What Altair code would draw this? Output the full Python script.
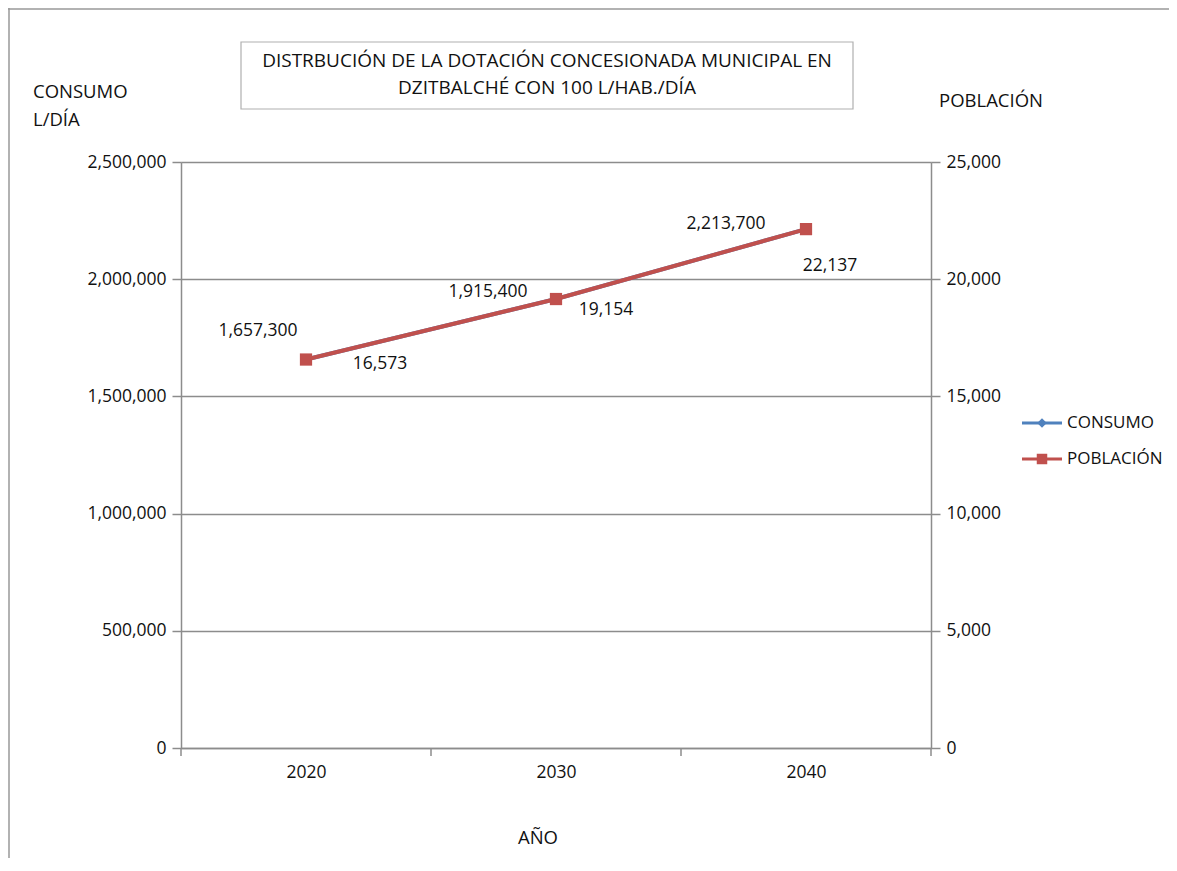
import altair as alt
import pandas as pd

# ---- data ----
years = [2020, 2030, 2040]
consumo = [1657300, 1915400, 2213700]
poblacion = [16573, 19154, 22137]
tick_bounds = [2015, 2025, 2035, 2045]
series = ["CONSUMO", "POBLACIÓN"]
colors = ["#4F81BD", "#C0504D"]
title_lines = ["DISTRBUCIÓN DE LA DOTACIÓN CONCESIONADA MUNICIPAL EN",
               "DZITBALCHÉ CON 100 L/HAB./DÍA"]

df = pd.DataFrame({"year": years, "consumo": consumo, "poblacion": poblacion})
df["consumo_lbl"] = [f"{v:,}" for v in consumo]
df["poblacion_lbl"] = [f"{v:,}" for v in poblacion]
one = pd.DataFrame({"a": [0]})

FONT = "Open Sans"
GRAY = "#8c8c8c"
TXT = "#111111"
W, H = 750, 586
LBL = 17.5

x_axis = alt.Axis(values=years, format="d", ticks=False, grid=False,
                  domainColor=GRAY, domainWidth=1.5,
                  labelFont=FONT, labelFontSize=LBL, labelColor=TXT,
                  labelPadding=15, title=None)
x_scale = alt.Scale(domain=[2015, 2045], nice=False)
xenc = alt.X("year:Q", scale=x_scale, axis=x_axis)

yl_axis = alt.Axis(values=[0, 500000, 1000000, 1500000, 2000000, 2500000],
                   format=",d", grid=True, gridColor=GRAY, gridWidth=1.5,
                   domainColor=GRAY, domainWidth=1.5, tickColor=GRAY,
                   tickWidth=1.5, tickSize=9, labelPadding=6,
                   labelFont=FONT, labelFontSize=LBL, labelColor=TXT,
                   title=None)
yl = alt.Y("consumo:Q", scale=alt.Scale(domain=[0, 2500000], nice=False), axis=yl_axis)

yr_axis = alt.Axis(orient="right", values=[0, 5000, 10000, 15000, 20000, 25000],
                   format=",d", grid=False, domainColor=GRAY, domainWidth=1.5,
                   tickColor=GRAY, tickWidth=1.5, tickSize=9, labelPadding=6,
                   labelFont=FONT, labelFontSize=LBL, labelColor=TXT,
                   title=None)
yr = alt.Y("poblacion:Q", scale=alt.Scale(domain=[0, 25000], nice=False), axis=yr_axis)

base = alt.Chart(df)

# left (CONSUMO) layer
left_layers = [
    base.mark_line(color=colors[0], strokeWidth=4).encode(x=xenc, y=yl),
    base.mark_point(shape="diamond", filled=True, size=120, opacity=1,
                    color=colors[0]).encode(x=xenc, y=yl),
]
c_off = [(-48, -29), (-68, -7), (-80, -5)]
for yv, (dx, dy) in zip(years, c_off):
    left_layers.append(
        base.transform_filter(alt.datum.year == yv).mark_text(
            font=FONT, fontSize=LBL, color=TXT, dx=dx, dy=dy, align="center", baseline="middle"
        ).encode(x=xenc, y=yl, text="consumo_lbl:N"))
left = alt.layer(*left_layers)

# right (POBLACIÓN) layer
right_layers = [
    base.mark_line(color=colors[1], strokeWidth=4).encode(x=xenc, y=yr),
    base.mark_point(shape="square", filled=True, size=150, opacity=1,
                    color=colors[1]).encode(x=xenc, y=yr),
]
p_off = [(74, 4), (50, 11), (24, 37)]
for yv, (dx, dy) in zip(years, p_off):
    right_layers.append(
        base.transform_filter(alt.datum.year == yv).mark_text(
            font=FONT, fontSize=LBL, color=TXT, dx=dx, dy=dy, align="center", baseline="middle"
        ).encode(x=xenc, y=yr, text="poblacion_lbl:N"))
right = alt.layer(*right_layers)

# x ticks at category boundaries
ticks = alt.Chart(pd.DataFrame({"year": tick_bounds})).mark_rule(color=GRAY, strokeWidth=1.5).encode(
    x=xenc, y=alt.value(H), y2=alt.value(H + 8))

deco = []
# outer frame (top and left)
deco.append(alt.Chart(one).mark_rule(color="#999", strokeWidth=1.5).encode(
    x=alt.value(-173), x2=alt.value(990), y=alt.value(-153)))
deco.append(alt.Chart(one).mark_rule(color="#999", strokeWidth=1.5).encode(
    x=alt.value(-172), y=alt.value(-154), y2=alt.value(700)))
# title box
deco.append(alt.Chart(one).mark_rect(fill="white", stroke="#b0b0b0", strokeWidth=1.2).encode(
    x=alt.value(60), x2=alt.value(672), y=alt.value(-120), y2=alt.value(-53)))
deco.append(alt.Chart(one).mark_text(font=FONT, fontSize=19, color=TXT, align="center",
                                     baseline="middle", lineHeight=27).encode(
    x=alt.value(366), y=alt.value(-101), text=alt.value(title_lines)))
# axis titles
deco.append(alt.Chart(one).mark_text(font=FONT, fontSize=18.5, color=TXT, align="left",
                                     baseline="middle", lineHeight=28).encode(
    x=alt.value(-148), y=alt.value(-70), text=alt.value(["CONSUMO", "L/DÍA"])))
deco.append(alt.Chart(one).mark_text(font=FONT, fontSize=18.5, color=TXT, align="left",
                                     baseline="middle").encode(
    x=alt.value(758), y=alt.value(-61), text=alt.value("POBLACIÓN")))
deco.append(alt.Chart(one).mark_text(font=FONT, fontSize=18.5, color=TXT, align="center",
                                     baseline="middle").encode(
    x=alt.value(357), y=alt.value(676), text=alt.value("AÑO")))
# legend
leg_y = [261, 297]
for nm, col, shp, yy in zip(series, colors, ["diamond", "square"], leg_y):
    deco.append(alt.Chart(one).mark_rule(color=col, strokeWidth=3).encode(
        x=alt.value(841), x2=alt.value(881), y=alt.value(yy)))
    deco.append(alt.Chart(one).mark_point(shape=shp, filled=True, opacity=1, color=col,
                                          size=110 if shp == "square" else 90).encode(
        x=alt.value(861), y=alt.value(yy)))
    deco.append(alt.Chart(one).mark_text(font=FONT, fontSize=17, color=TXT, align="left",
                                         baseline="middle").encode(
        x=alt.value(886), y=alt.value(yy), text=alt.value(nm)))

chart = alt.layer(left, right, ticks, *deco).resolve_scale(y="independent").properties(
    width=W, height=H,
    autosize=alt.AutoSizeParams(type="none"),
    padding={"left": 173, "top": 154, "right": 238, "bottom": 110},
).configure_view(stroke=None).configure(background="white")

chart.save("out.html", embed_options={"renderer": "svg", "actions": False})
